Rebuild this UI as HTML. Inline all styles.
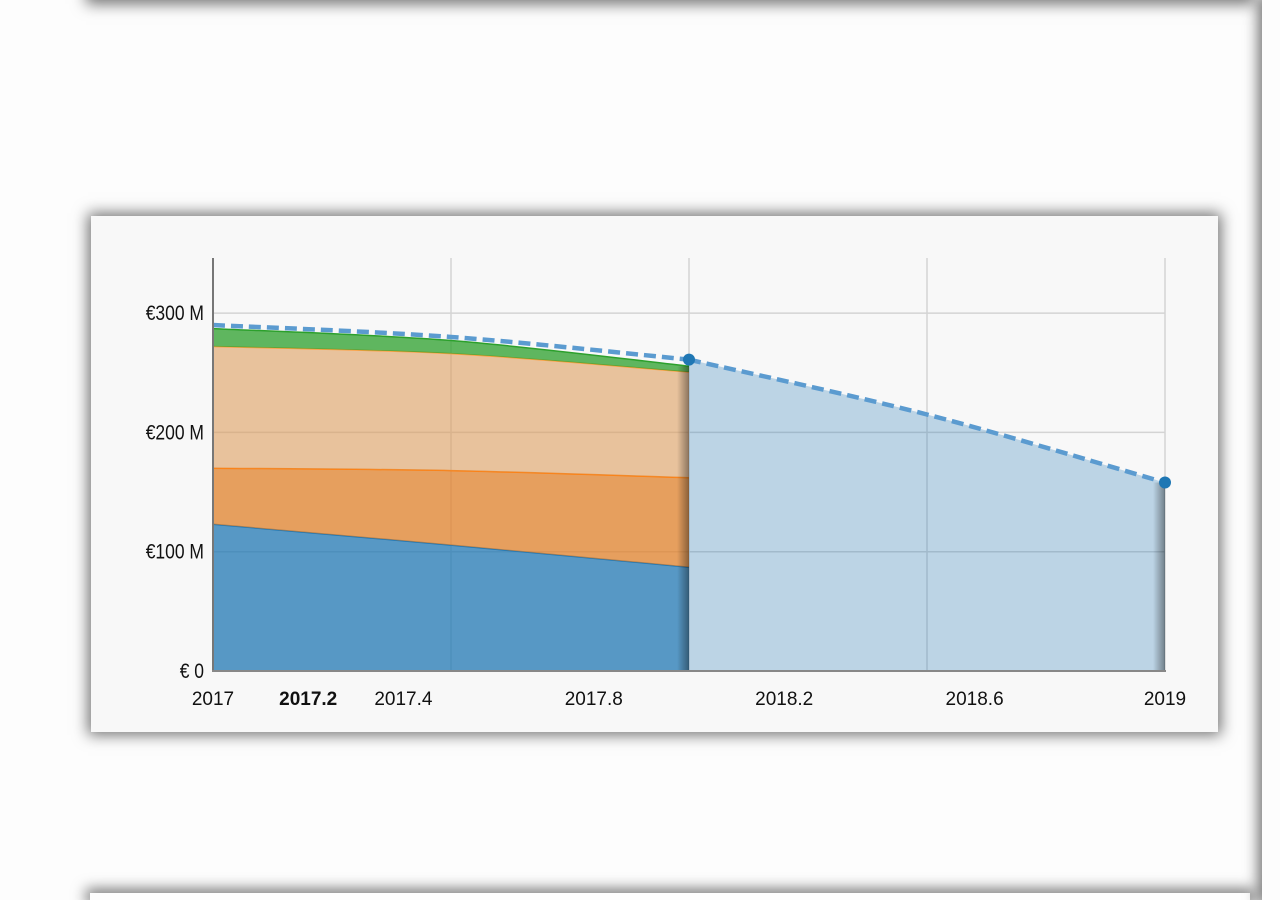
<!DOCTYPE html>
<html><head><meta charset="utf-8"><style>
html,body{margin:0;padding:0;width:1280px;height:900px;overflow:hidden;background:#fdfdfd;font-family:"Liberation Sans Narrow","Liberation Sans",sans-serif;position:relative;}
.blk{position:absolute;background:#fdfdfd;box-shadow:0 0 14px 4px rgba(0,0,0,0.55);}
#card{position:absolute;left:91px;top:216px;width:1127px;height:516px;background:#f8f8f8;box-shadow:0 0 14px 3px rgba(0,0,0,0.55);}
svg{position:absolute;left:0;top:0}
text{font-family:"Liberation Sans Narrow","Liberation Sans",sans-serif;font-size:19px;fill:#111}
</style></head><body>
<div class="blk" style="left:90px;top:-60px;width:1160px;height:60px"></div>
<div class="blk" style="left:90px;top:893px;width:1160px;height:7px"></div>
<div class="blk" style="left:1262px;top:0px;width:18px;height:900px"></div>
<div id="card"></div>
<svg id="chart" width="1280" height="900"></svg>
<script>
const years=[2017,2017.5,2018];
const blueVals=[123,105.5,87];
const orangeVals=[47,62.5,75];
const peachVals=[102,98,88.5];
const greenVals=[15,11,5];
const fcYears=[2018,2018.5,2019];
const fcVals=[261,215,158];
const yTicks=[0,100,200,300];
const yTickLabels=["€ 0","€100 M","€200 M","€300 M"];
const xTicks=[2017,2017.2,2017.4,2017.8,2018.2,2018.6,2019];
const xTickLabels=["2017","2017.2","2017.4","2017.8","2018.2","2018.6","2019"];
const xGrid=[2017,2017.5,2018,2018.5,2019];

const X=v=>213+(v-2017)*476;
const Y=v=>671-v*1.193;
const NS='http://www.w3.org/2000/svg';
const svg=document.getElementById('chart');
function mk(t,a){const e=document.createElementNS(NS,t);for(const k in a)e.setAttribute(k,a[k]);svg.appendChild(e);return e;}
function curve(pts){
  let d='';
  for(let i=0;i<pts.length;i++){
    const p=pts[i];
    if(i===0){d+='M'+p[0]+','+p[1];continue;}
    const p0=pts[i-2]||pts[i-1],p1=pts[i-1],p3=pts[i+1]||p;
    const c1=[p1[0]+(p[0]-p0[0])/6,p1[1]+(p[1]-p0[1])/6];
    const c2=[p[0]-(p3[0]-p1[0])/6,p[1]-(p3[1]-p1[1])/6];
    d+='C'+c1+' '+c2+' '+p;
  }
  return d;
}
yTicks.forEach((t,i)=>{if(t>0){const g=mk('line',{x1:213,x2:1165,y1:Y(t),y2:Y(t),stroke:'#d4d4d4','stroke-width':1.5});}});
xGrid.forEach(t=>{const g=mk('line',{x1:X(t),x2:X(t),y1:258,y2:671,stroke:'#d4d4d4','stroke-width':1.5});});
let base=years.map(()=>0);
const series=[[blueVals,'rgba(31,119,180,0.74)','#1f77b4','blue-area'],[orangeVals,'rgba(224,128,40,0.74)','#ff7f0e','orange-area'],[peachVals,'rgba(220,155,90,0.58)','#ffa040','peach-area'],[greenVals,'rgba(44,160,44,0.75)','#2ca02c','green-area']];
series.forEach(s=>{
  const top=years.map((y,i)=>base[i]+s[0][i]);
  const tp=years.map((y,i)=>[X(y),Y(top[i])]);
  const bp=years.map((y,i)=>[X(y),Y(base[i])]).reverse();
  const d=curve(tp)+'L'+bp[0]+curve(bp).replace(/^M[^C]*/,'')+'Z';
  const a=mk('path',{d:d,fill:s[1]});
  
  
  const l=mk('path',{d:curve(tp),fill:'none',stroke:s[2],'stroke-width':1.5});
  
  
  base=top;
});
const fp=fcYears.map((y,i)=>[X(y),Y(fcVals[i])]);
const fa=mk('path',{d:curve(fp)+'L'+X(2019)+','+Y(0)+'L'+X(2018)+','+Y(0)+'Z',fill:'rgba(31,119,180,0.28)'});


const defs=mk('defs',{});
defs.innerHTML='<linearGradient id="sh" x1="0" x2="1"><stop offset="0" stop-color="#000" stop-opacity="0"/><stop offset="1" stop-color="#000" stop-opacity="0.4"/></linearGradient>';
const s1=mk('rect',{x:X(2018)-12,y:Y(base[2]),width:12,height:Y(0)-Y(base[2]),fill:'url(#sh)'});


const s2=mk('rect',{x:X(2019)-12,y:Y(fcVals[2]),width:12,height:Y(0)-Y(fcVals[2]),fill:'url(#sh)'});


const totals=years.map((y,i)=>blueVals[i]+orangeVals[i]+peachVals[i]+greenVals[i]+3);
totals[2]=fcVals[0];
const allP=years.map((y,i)=>[X(y),Y(totals[i])]);
const dl=mk('path',{d:curve(allP),fill:'none',stroke:'#5b9bd0','stroke-width':4.5,'stroke-dasharray':'12 6'});


const dl2=mk('path',{d:curve(fp),fill:'none',stroke:'#5b9bd0','stroke-width':4.5,'stroke-dasharray':'12 6'});


[[2018,fcVals[0]],[2019,fcVals[2]]].forEach(p=>{const c=mk('circle',{cx:X(p[0]),cy:Y(p[1]),r:6,fill:'#1f77b4'});});
const ax=mk('line',{x1:213,x2:213,y1:258,y2:671,stroke:'#777','stroke-width':2});


const bx=mk('line',{x1:212,x2:1166,y1:671,y2:671,stroke:'#888','stroke-width':2});


yTicks.forEach((t,i)=>{const e=mk('text',{x:204,y:Y(t)+7,'text-anchor':'end',transform:'translate(204,0) scale(0.92,1.1) translate(-204,'+(-(Y(t)+7)*0.1/1.1)+')'});e.textContent=yTickLabels[i];});
xTicks.forEach((t,i)=>{const e=mk('text',{x:X(t),y:705,'text-anchor':'middle'});if(i===1)e.setAttribute('font-weight','bold');e.textContent=xTickLabels[i];});
</script>
</body></html>
